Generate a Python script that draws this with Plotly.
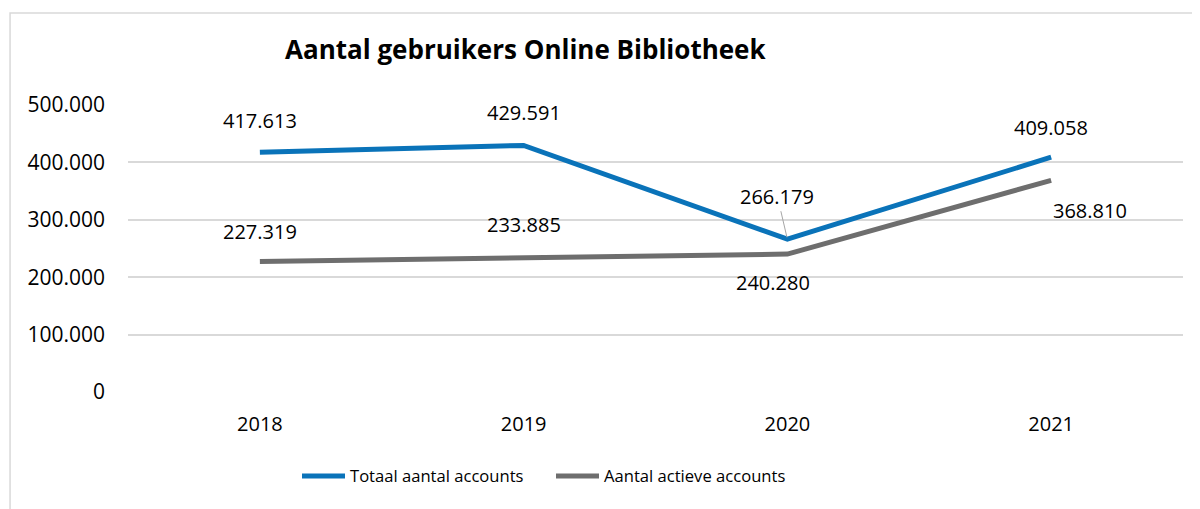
import plotly.graph_objects as go

years = ["2018", "2019", "2020", "2021"]
totaal = [417613, 429591, 266179, 409058]
actief = [227319, 233885, 240280, 368810]
series_names = ["Totaal aantal accounts", "Aantal actieve accounts"]
tick_vals = [0, 100000, 200000, 300000, 400000, 500000]
tick_text = ["0", "100.000", "200.000", "300.000", "400.000", "500.000"]

BLUE = "#0A73B9"
GRAY = "#6E6E6E"
FONT = "Open Sans"
OFF = 8  # page body offset


def fmt(v):
    return f"{v:,}".replace(",", ".")


fig = go.Figure()
fig.add_trace(go.Scatter(x=years, y=totaal, mode="lines", name=series_names[0],
                         line=dict(color=BLUE, width=5)))
fig.add_trace(go.Scatter(x=years, y=actief, mode="lines", name=series_names[1],
                         line=dict(color=GRAY, width=5)))

# label offsets (px) per point
blue_off = [(0, 32), (0, 33), None, (0, 30)]
gray_off = [(0, 30), (0, 33), (-14, -28), (39, -30)]

for i in range(len(years)):
    if blue_off[i] is not None:
        dx, dy = blue_off[i]
        fig.add_annotation(x=i, y=totaal[i], text=fmt(totaal[i]), showarrow=False,
                           xshift=dx, yshift=dy, font=dict(size=20, color="#000000", family=FONT))
    else:
        fig.add_annotation(x=i, y=totaal[i], text=fmt(totaal[i]), showarrow=True,
                           arrowhead=0, arrowwidth=1, arrowcolor="#A6A6A6",
                           ax=-10, ay=-43, standoff=2,
                           font=dict(size=20, color="#000000", family=FONT))
    dx, dy = gray_off[i]
    fig.add_annotation(x=i, y=actief[i], text=fmt(actief[i]), showarrow=False,
                       xshift=dx, yshift=dy, font=dict(size=20, color="#000000", family=FONT))

# outer chart border
fig.add_shape(type="rect", xref="paper", yref="paper",
              x0=-0.1118, y0=-0.6, x1=1.2, y1=1.3206,
              line=dict(color="#D9D9D9", width=1.5), fillcolor="rgba(0,0,0,0)", layer="below")

fig.update_layout(
    width=1200, height=509,
    margin=dict(l=128 - OFF, r=1200 - 1183 + OFF, t=105 - OFF, b=509 - 392 + OFF, autoexpand=False),
    paper_bgcolor="#FFFFFF", plot_bgcolor="#FFFFFF",
    font=dict(family=FONT, color="#000000"),
    title=dict(text="<b>Aantal gebruikers Online Bibliotheek</b>",
               x=(285 - OFF) / 1200, xanchor="left", xref="container",
               y=1 - (50 - OFF) / 509, yanchor="middle", yref="container",
               font=dict(size=26, color="#000000", family=FONT)),
    showlegend=True,
    legend=dict(orientation="h", x=(297 - 128) / 1055, xanchor="left", y=-0.293, yanchor="middle",
                font=dict(size=16.6, color="#000000", family=FONT),
                itemwidth=43, entrywidth=196, entrywidthmode="pixels",
                traceorder="normal", bgcolor="rgba(0,0,0,0)"),
    xaxis=dict(type="category", range=[-0.5, 3.5], showgrid=False, showline=False,
               ticks="", zeroline=False, automargin=False,
               tickfont=dict(size=20, color="#000000"), ticklabelstandoff=18),
    yaxis=dict(range=[0, 500000], tickvals=tick_vals, ticktext=tick_text,
               showgrid=True, gridcolor="#D9D9D9", gridwidth=1.5, zeroline=False,
               showline=False, automargin=False, tickfont=dict(size=21, color="#000000"),
               ticklabelstandoff=22),
)

fig.write_html("out.html")
